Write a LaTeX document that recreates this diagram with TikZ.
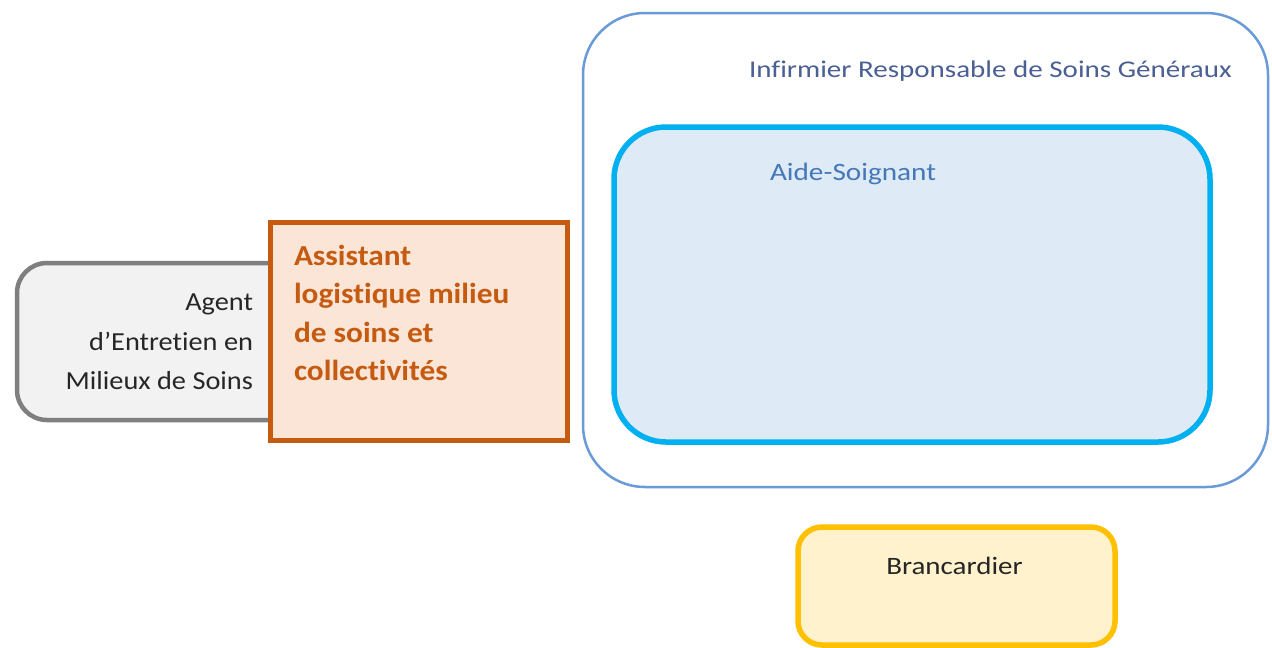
\documentclass[tikz,border=0pt]{standalone}
\usepackage{fontspec}
\setmainfont{Carlito}[Ligatures=NoCommon]
\definecolor{outerblue}{HTML}{6A9BD8}
\definecolor{cyanline}{HTML}{00B0F0}
\definecolor{aidefill}{HTML}{DEEAF6}
\definecolor{greyline}{HTML}{7F7F7F}
\definecolor{greyfill}{HTML}{F2F2F2}
\definecolor{orangeline}{HTML}{C55A11}
\definecolor{orangefill}{HTML}{FBE5D6}
\definecolor{goldline}{HTML}{FFC000}
\definecolor{goldfill}{HTML}{FFF2CC}
\definecolor{irsgtext}{HTML}{4A5F93}
\definecolor{aidetext}{HTML}{4478B8}
\definecolor{darktext}{HTML}{262626}
\tikzset{
  box/.style={rectangle, inner sep=0pt, outer sep=0pt},
  lbl/.style={inner sep=0pt, outer sep=0pt, transform shape},
}
\begin{document}
\begin{tikzpicture}[x=1pt,y=-1pt]
\useasboundingbox[fill=white] (0,0) rectangle (1272,648);
% Agent box
\node[box, draw=greyline, fill=greyfill, line width=4.5pt, rounded corners=30pt,
  minimum width=300pt, minimum height=157pt] (agent) at (167,341.5) {};
\node[lbl, xscale=1.09, anchor=east, align=right, text=darktext, font=\fontsize{26}{39.5}\selectfont] (agenttxt) at (253,342) {Agent\\d’Entretien en\\Milieux de Soins};
% Orange box
\node[box, draw=orangeline, fill=orangefill, line width=5pt,
  minimum width=297pt, minimum height=218pt] (alms) at (418.5,331) {};
\node[lbl, xscale=1.08, anchor=north west, align=left, text=orangeline, font=\bfseries\fontsize{29}{38.5}\selectfont] (almstxt) at (294,245) {Assistant\\logistique milieu\\de soins et\\collectivités};
% IRSG outer box
\node[box, draw=outerblue, line width=2.5pt, rounded corners=62pt,
  minimum width=685pt, minimum height=474pt] (irsg) at (925.5,250) {};
\node[lbl, xscale=1.21, anchor=west, text=irsgtext, font=\fontsize{24}{28}\selectfont] (irsgtxt) at (749,71) {Infirmier Responsable de Soins Généraux};
% Aide-soignant
\node[box, draw=cyanline, fill=aidefill, line width=5.5pt, rounded corners=52pt,
  minimum width=596pt, minimum height=315pt] (aide) at (912,284.5) {};
\node[lbl, xscale=1.17, anchor=west, text=aidetext, font=\fontsize{25}{30}\selectfont] (aidetxt) at (770,174) {Aide-Soignant};
% Brancardier
\node[box, draw=goldline, fill=goldfill, line width=5.5pt, rounded corners=24pt,
  minimum width=317pt, minimum height=118pt] (branc) at (956.5,586) {};
\node[lbl, xscale=1.16, anchor=center, text=darktext, font=\fontsize{25}{30}\selectfont] (branctxt) at (954.5,566) {Brancardier};
\end{tikzpicture}
\end{document}
